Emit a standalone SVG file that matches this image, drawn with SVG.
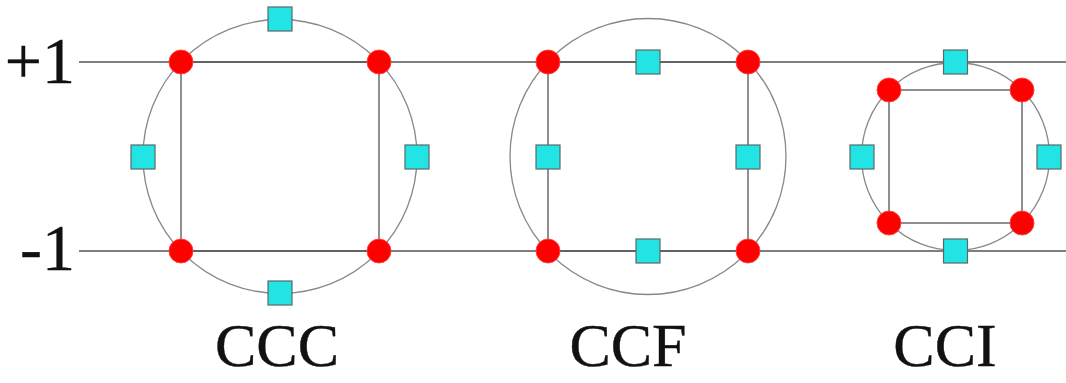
<svg xmlns="http://www.w3.org/2000/svg" width="1066" height="383" viewBox="0 0 1066 383">
<style>
.lvl{stroke:#555;stroke-width:1.3;fill:none}
.ring{stroke:#888;stroke-width:1.3;fill:none}
.edge{stroke:#555;stroke-width:1.3;fill:none}
.pt{fill:#ff0000;stroke:#ff4040;stroke-width:1}
.sq{fill:#22e4e4;stroke:#5a6a6a;stroke-width:1.2}
.lbl{font-family:"Liberation Serif","Times New Roman",serif;fill:#111;stroke:#111;stroke-width:0.4}
</style>
<rect width="1066" height="383" fill="#fff"/>
<g id="connectors">
<line class="lvl" x1="79" y1="62" x2="1066" y2="62"/>
<line class="lvl" x1="79" y1="251" x2="1066" y2="251"/>
<circle class="ring" cx="280" cy="156.5" r="137"/>
<circle class="ring" cx="648" cy="156.5" r="138"/>
<circle class="ring" cx="955.5" cy="156.5" r="94"/>
<rect class="edge" x="181" y="62" width="198" height="189"/>
<rect class="edge" x="548" y="62" width="200" height="189"/>
<rect class="edge" x="889" y="90" width="133" height="133"/>
</g>
<g id="axis-labels">
<text class="lbl" x="75" y="83" font-size="66" text-anchor="end">+1</text>
<text class="lbl" x="75" y="270" font-size="66" text-anchor="end">-1</text>
</g>
<g id="ccc">
<circle class="pt" cx="181" cy="62" r="12"/>
<circle class="pt" cx="379" cy="62" r="12"/>
<circle class="pt" cx="181" cy="251" r="12"/>
<circle class="pt" cx="379" cy="251" r="12"/>
<rect class="sq" x="268" y="7" width="24" height="24"/>
<rect class="sq" x="131" y="145" width="24" height="24"/>
<rect class="sq" x="405" y="145" width="24" height="24"/>
<rect class="sq" x="268" y="281" width="24" height="24"/>
<text class="lbl" x="277" y="366" font-size="62" text-anchor="middle">CCC</text>
</g>
<g id="ccf">
<circle class="pt" cx="548" cy="62" r="12"/>
<circle class="pt" cx="748" cy="62" r="12"/>
<circle class="pt" cx="548" cy="251" r="12"/>
<circle class="pt" cx="748" cy="251" r="12"/>
<rect class="sq" x="636" y="50" width="24" height="24"/>
<rect class="sq" x="536" y="145" width="24" height="24"/>
<rect class="sq" x="736" y="145" width="24" height="24"/>
<rect class="sq" x="636" y="239" width="24" height="24"/>
<text class="lbl" x="628" y="366" font-size="62" text-anchor="middle">CCF</text>
</g>
<g id="cci">
<circle class="pt" cx="889" cy="90" r="12"/>
<circle class="pt" cx="1022" cy="90" r="12"/>
<circle class="pt" cx="889" cy="223" r="12"/>
<circle class="pt" cx="1022" cy="223" r="12"/>
<rect class="sq" x="943.5" y="50" width="24" height="24"/>
<rect class="sq" x="850" y="145" width="24" height="24"/>
<rect class="sq" x="1037" y="145" width="24" height="24"/>
<rect class="sq" x="943.5" y="239" width="24" height="24"/>
<text class="lbl" x="945" y="366" font-size="62" text-anchor="middle">CCI</text>
</g>
</svg>
